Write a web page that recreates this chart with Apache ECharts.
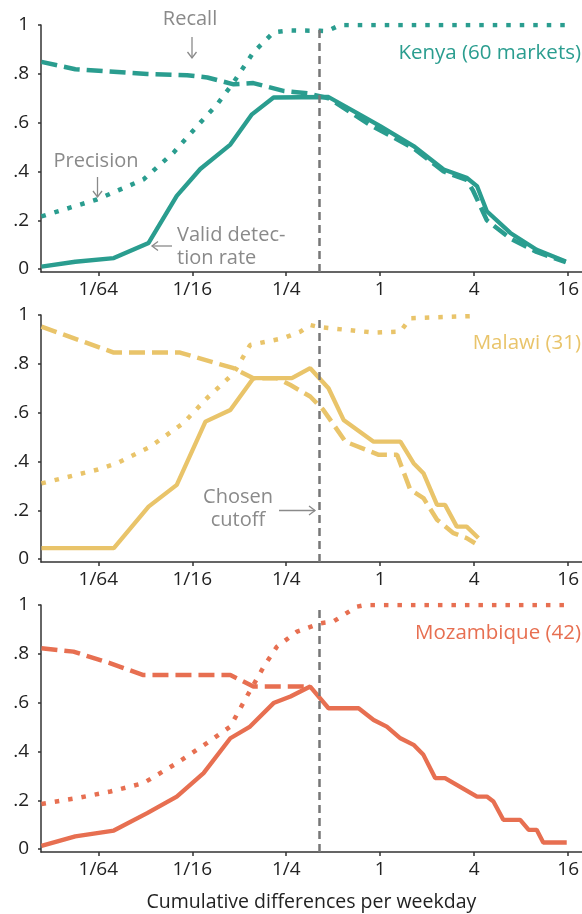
<!DOCTYPE html>
<html><head><meta charset="utf-8">
<script src="https://cdn.jsdelivr.net/npm/echarts@6/dist/echarts.min.js"></script>
<style>html,body{margin:0;padding:0;background:#fff}#c{width:582px;height:914px}</style>
</head><body><div id="c"></div>
<script>
// x values are log2 of "cumulative differences per weekday"
const xTickValues = [1/64, 1/16, 1/4, 1, 4, 16];
const xTickLabels = ['1/64', '1/16', '1/4', '1', '4', '16'];
const yTickValues = [0, 0.2, 0.4, 0.6, 0.8, 1];
const yTickLabels = ['0', '.2', '.4', '.6', '.8', '1'];
const cutoff = 0.41;

const countries = ['Kenya (60 markets)', 'Malawi (31)', 'Mozambique (42)'];
const colors = ['#2a9d8f', '#e9c46a', '#e76f51'];

// Kenya
const kenyaValidX  = [-7.21,-6.49,-5.67,-4.93,-4.33,-3.83,-3.19,-2.73,-2.27,-1.10,-0.50,0,0.71,1.35,1.84,2.06,2.27,2.77,3.33,3.95];
const kenyaValidY  = [0.01,0.03,0.045,0.107,0.30,0.41,0.51,0.634,0.703,0.705,0.64,0.586,0.504,0.408,0.374,0.34,0.237,0.148,0.079,0.031];
const kenyaRecallX = [-7.21,-6.49,-4.96,-4.11,-3.68,-3.12,-2.70,-2.06,-1.55,-1.10,-0.21,0.71,1.35,1.84,1.98,2.27,2.77,3.33,3.95];
const kenyaRecallY = [0.849,0.819,0.799,0.794,0.785,0.757,0.762,0.73,0.72,0.70,0.59,0.495,0.40,0.365,0.32,0.20,0.125,0.07,0.028];
const kenyaPrecX   = [-7.21,-6.03,-5.04,-4.40,-3.83,-3.47,-3.12,-2.70,-2.27,-1.91,-1.28,-1.13,-0.85,3.95];
const kenyaPrecY   = [0.216,0.285,0.367,0.477,0.60,0.675,0.765,0.888,0.97,0.978,0.976,0.975,1.0,1.0];

// Malawi
const malawiValidX  = [-7.21,-5.67,-4.93,-4.33,-3.72,-3.19,-2.70,-2.34,-1.88,-1.49,-1.10,-0.78,-0.14,0.43,0.71,0.92,1.21,1.38,1.63,1.84,2.09];
const malawiValidY  = [0.045,0.045,0.215,0.304,0.563,0.611,0.741,0.741,0.741,0.782,0.70,0.57,0.481,0.481,0.393,0.352,0.222,0.222,0.133,0.133,0.086];
const malawiRecallX = [-7.21,-5.67,-4.26,-3.12,-2.70,-2.20,-1.91,-1.49,-1.21,-0.74,-0.03,0.36,0.64,0.92,1.21,1.56,1.84,2.02];
const malawiRecallY = [0.952,0.846,0.846,0.782,0.741,0.741,0.713,0.666,0.611,0.481,0.427,0.427,0.284,0.25,0.161,0.106,0.086,0.065];
const malawiPrecX   = [-7.21,-6.03,-5.60,-4.89,-4.19,-3.69,-3.12,-2.77,-2.06,-1.70,-1.49,-1.28,-0.14,0.43,0.64,2.02];
const malawiPrecY   = [0.31,0.366,0.393,0.461,0.557,0.659,0.761,0.877,0.905,0.932,0.959,0.95,0.928,0.932,0.987,0.996];

// Mozambique
const mozValidX  = [-7.21,-6.49,-5.67,-4.96,-4.33,-3.76,-3.19,-2.77,-2.27,-1.91,-1.49,-1.10,-0.46,-0.14,0.14,0.43,0.71,0.92,1.17,1.38,2.06,2.27,2.41,2.62,2.98,3.16,3.33,3.47,3.97];
const mozValidY  = [0.013,0.052,0.076,0.147,0.215,0.311,0.454,0.502,0.598,0.625,0.666,0.577,0.577,0.529,0.502,0.454,0.427,0.386,0.291,0.291,0.215,0.215,0.195,0.12,0.12,0.079,0.079,0.027,0.027];
const mozRecallX = [-7.21,-6.53,-5.74,-5.04,-3.19,-2.70,-1.49];
const mozRecallY = [0.823,0.809,0.761,0.713,0.713,0.666,0.666];
const mozPrecX   = [-7.21,-6.45,-5.74,-5.04,-4.33,-3.69,-3.19,-2.84,-2.48,-2.20,-1.77,-1.28,-1.0,-0.50,-0.32,3.97];
const mozPrecY   = [0.185,0.209,0.236,0.27,0.352,0.434,0.502,0.625,0.747,0.829,0.891,0.925,0.932,0.993,1.0,1.0];

const panels = [
  {valid:[kenyaValidX,kenyaValidY], recall:[kenyaRecallX,kenyaRecallY], prec:[kenyaPrecX,kenyaPrecY]},
  {valid:[malawiValidX,malawiValidY], recall:[malawiRecallX,malawiRecallY], prec:[malawiPrecX,malawiPrecY]},
  {valid:[mozValidX,mozValidY], recall:[mozRecallX,mozRecallY], prec:[mozPrecX,mozPrecY]}
];

const FONT = 'Open Sans';
const AX = '#333';
const GRAY = '#8a8a8a';
const X_MIN = -7.22, X_MAX = 4.29;
const tops = [25, 315, 605];
const zip = (xs, ys) => xs.map((x, i) => [x, ys[i]]);

const grids = [], xAxes = [], yAxes = [], series = [];
const xTickExp = xTickValues.map(v => Math.log2(v));
tops.forEach((t, i) => {
  grids.push({left: 41, width: 541, top: t, height: 247});
  xAxes.push({
    type: 'value', gridIndex: i, min: X_MIN, max: X_MAX,
    axisLine: {show: true, onZero: false, lineStyle: {color: AX, width: 1.5}},
    axisTick: {show: true, customValues: xTickExp, length: 4, lineStyle: {color: AX, width: 1.5}},
    axisLabel: {customValues: xTickExp, margin: 8, fontSize: 19, color: '#222', fontFamily: FONT,
      formatter: v => { const k = xTickExp.findIndex(e => Math.abs(e - v) < 1e-6); return k >= 0 ? xTickLabels[k] : ''; }},
    splitLine: {show: false},
    name: i === 2 ? 'Cumulative differences per weekday' : '',
    nameLocation: 'middle', nameGap: 40,
    nameTextStyle: {fontSize: 19.5, color: '#222', fontFamily: FONT}
  });
  yAxes.push({
    type: 'value', gridIndex: i, min: -0.012, max: 1,
    axisLine: {show: true, onZero: false, lineStyle: {color: AX, width: 1.5}},
    axisTick: {show: true, customValues: yTickValues, length: 3, lineStyle: {color: AX, width: 1.5}},
    axisLabel: {customValues: yTickValues, margin: 12, fontSize: 19, color: '#222', fontFamily: FONT,
      formatter: v => { const k = yTickValues.findIndex(e => Math.abs(e - v) < 1e-6); return k >= 0 ? yTickLabels[k] : ''; }},
    splitLine: {show: false}
  });
  const p = panels[i], c = colors[i];
  series.push({
    type: 'line', xAxisIndex: i, yAxisIndex: i, data: zip(p.prec[0], p.prec[1]),
    showSymbol: false, lineStyle: {color: c, width: 4.5, type: [4.5, 9], cap: 'butt'}, z: 2
  });
  series.push({
    type: 'line', xAxisIndex: i, yAxisIndex: i, data: zip(p.valid[0], p.valid[1]),
    showSymbol: false, lineStyle: {color: c, width: 4.3}, z: 3
  });
  series.push({
    type: 'line', xAxisIndex: i, yAxisIndex: i, data: zip(p.recall[0], p.recall[1]),
    showSymbol: false, lineStyle: {color: c, width: 4.5, type: [16, 7], cap: 'butt'}, z: 4,
    markLine: {silent: true, symbol: 'none', label: {show: false},
      lineStyle: {color: '#777', width: 2.5, type: [8, 5]},
      data: [{xAxis: Math.log2(cutoff)}]}
  });
});

function arrow(x1, y1, x2, y2) {
  const dx = x2 - x1, dy = y2 - y1, L = Math.hypot(dx, dy);
  const ux = dx / L, uy = dy / L, h = 6, w = 4.5;
  return [
    {type: 'line', shape: {x1, y1, x2, y2}, style: {stroke: GRAY, lineWidth: 1.3}},
    {type: 'polyline', shape: {points: [
      [x2 - ux * h - uy * w, y2 - uy * h + ux * w], [x2, y2], [x2 - ux * h + uy * w, y2 - uy * h - ux * w]]},
      style: {stroke: GRAY, lineWidth: 1.3, fill: null}}
  ];
}
const AF = '20px "' + FONT + '"';
const txt = (x, y, s, align) => ({type: 'text', x, y,
  style: {text: s, fill: GRAY, font: AF, textAlign: align || 'center', textVerticalAlign: 'middle'}});

const graphics = [
  txt(190, 19, 'Recall'), ...arrow(192, 37, 192, 58),
  txt(96, 161, 'Precision'), ...arrow(97.5, 177, 97.5, 197),
  txt(177, 235, 'Valid detec-', 'left'),
  txt(177, 258, 'tion rate', 'left'),
  ...arrow(172, 246, 152, 246),
  txt(238, 497, 'Chosen'), txt(238, 520, 'cutoff'), ...arrow(279, 510.5, 315, 510.5)
];
const labelY = [53, 343, 633];
countries.forEach((s, i) => graphics.push({type: 'text', x: 581, y: labelY[i],
  style: {text: s, fill: colors[i], font: '20.5px "' + FONT + '"', textAlign: 'right', textVerticalAlign: 'middle'}}));

const chart = echarts.init(document.getElementById('c'), null, {renderer: 'canvas'});
chart.setOption({
  animation: false,
  backgroundColor: '#fff',
  grid: grids, xAxis: xAxes, yAxis: yAxes, series: series,
  graphic: graphics
});
</script></body></html>
